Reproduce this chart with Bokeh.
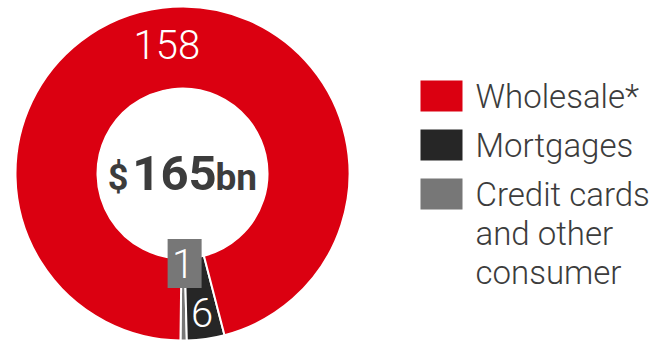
import numpy as np
from bokeh.plotting import figure
from bokeh.models import Range1d
from bokeh.core.properties import value
from bokeh.embed import file_html
from bokeh.resources import INLINE

# ---- data ----
categories = ["Wholesale*", "Mortgages", "Credit cards\nand other\nconsumer"]
amounts = [158, 6, 1]
colors = ["#DB0011", "#262626", "#777777"]
total_parts = ["$", "165", "bn"]

FONT = "Roboto Light"
BOLD_FONT = "Roboto"
TEXT_GREY = "#3c3c3c"
MID = 0.35  # baseline offset below "middle" anchor, in em

# page-pixel helpers
def Y(py):
    return 340 - py

p = figure(width=651, height=340, x_range=Range1d(0, 651), y_range=Range1d(0, 340),
           output_backend="svg", toolbar_location=None, min_border=0,
           outline_line_color=None, background_fill_color="white")
p.axis.visible = False
p.grid.visible = False

# ---- donut ----
cx, cy = 182, Y(173)
r_in, r_out = 85, 167
start = np.deg2rad(-90.7)
vals = np.array(amounts[::-1], dtype=float)           # credit cards, mortgages, wholesale (anticlockwise)
cols = colors[::-1]
frac = vals / vals.sum() * 2 * np.pi
ends = start + np.cumsum(frac)
starts = ends - frac
p.annular_wedge(x=cx, y=cy, inner_radius=r_in, outer_radius=r_out,
                start_angle=list(starts), end_angle=list(ends),
                fill_color=cols, line_color="white", line_width=2)

mids = (starts + ends) / 2
label_r = [90, 140, 130]  # credit cards, mortgages, wholesale
lx = [cx + r * np.cos(m) for r, m in zip(label_r, mids)]
ly = [cy + r * np.sin(m) for r, m in zip(label_r, mids)]

# grey box behind smallest label
p.rect(x=[lx[0] + 1.5], y=[ly[0]], width=34, height=49, fill_color=cols[0], line_color=None)
p.text(x=lx, y=ly, text=[str(int(v)) for v in vals], text_color="white",
       text_font=value(FONT), text_font_size="40px", text_align="center",
       text_baseline="middle")

# ---- centre total ----
base = 190
for txt, x, size, align in [(total_parts[0], 128, 36, "right"),
                            (total_parts[1], 174, 49, "center"),
                            (total_parts[2], 215, 37, "left")]:
    p.text(x=[x], y=[Y(base - MID * size)], text=[txt], text_font=value(BOLD_FONT),
           text_font_style="bold", text_font_size=f"{size}px", text_color=TEXT_GREY,
           text_align=align, text_baseline="middle")

# ---- legend ----
sq_left, sq_w, sq_h, step, top0 = 420, 42, 31, 49, 80
fs = 33
tx, ty, tz = [], [], []
for i, (lab, col) in enumerate(zip(categories, colors)):
    top = top0 + i * step
    p.quad(left=[sq_left], right=[sq_left + sq_w], top=[Y(top)], bottom=[Y(top + sq_h)],
           fill_color=col, line_color=None)
    for j, line in enumerate(lab.split("\n")):
        tx.append(475)
        ty.append(Y(top + 27.5 + j * 39 - MID * fs))
        tz.append(line)
p.text(x=tx, y=ty, text=tz, text_font=value(FONT), text_font_size=f"{fs}px",
       text_color=TEXT_GREY, text_align="left", text_baseline="middle")

open("out.html", "w").write(file_html(p, INLINE))
